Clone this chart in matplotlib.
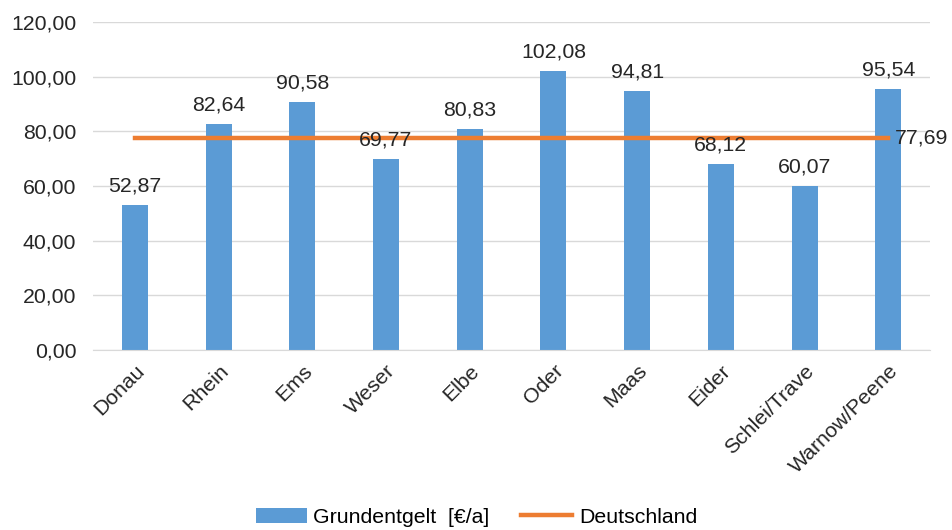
import matplotlib
matplotlib.use("Agg")
import matplotlib.pyplot as plt
from matplotlib.ticker import FuncFormatter

categories = ["Donau", "Rhein", "Ems", "Weser", "Elbe", "Oder", "Maas", "Eider", "Schlei/Trave", "Warnow/Peene"]
grundentgelt = [52.87, 82.64, 90.58, 69.77, 80.83, 102.08, 94.81, 68.12, 60.07, 95.54]
deutschland = [77.69] * len(categories)

plt.rcParams['font.family'] = ['Liberation Sans', 'DejaVu Sans']
fs = 15.3

fig = plt.figure(figsize=(9.53, 5.30), dpi=100)
ax = fig.add_axes([0.0976, 0.3396, 0.8784, 0.619])

x = list(range(len(categories)))
bars = ax.bar(x, grundentgelt, width=0.31, color="#5B9BD5", label="Grundentgelt  [€/a]", zorder=2)
line, = ax.plot(x, deutschland, color="#ED7D31", linewidth=3.2, label="Deutschland", zorder=3)

fmt = lambda v: f"{v:.2f}".replace(".", ",")
for xi, v in zip(x, grundentgelt):
    ax.annotate(fmt(v), (xi, v), xytext=(0, 7), textcoords="offset points",
                ha="center", va="bottom", fontsize=fs, color="#262626")
ax.annotate(fmt(deutschland[-1]), (x[-1], deutschland[-1]), xytext=(5, 0), textcoords="offset points",
            ha="left", va="center", fontsize=fs, color="#262626")

ax.set_xlim(-0.5, len(categories) - 0.5)
ax.set_ylim(0, 120)
ax.set_yticks(range(0, 121, 20))
ax.yaxis.set_major_formatter(FuncFormatter(lambda v, p: fmt(v)))
ax.grid(axis="y", color="#D9D9D9", linewidth=1, zorder=0)
ax.set_axisbelow(True)
for s in ["top", "right", "left"]:
    ax.spines[s].set_visible(False)
ax.spines["bottom"].set_color("#D9D9D9")
ax.tick_params(axis="both", length=0, labelsize=fs, colors="#262626", pad=12)
ax.set_xticks(x)
ax.set_xticklabels(categories, rotation=45, ha="right", rotation_mode="anchor")
ax.tick_params(axis="x", pad=8)

fig.legend(handles=[bars, line], loc="lower center", bbox_to_anchor=(0.5, -0.03), ncol=2,
           frameon=False, fontsize=fs, handlelength=2.4, columnspacing=1.5, handletextpad=0.3)

fig.savefig("out.png", dpi=100)
